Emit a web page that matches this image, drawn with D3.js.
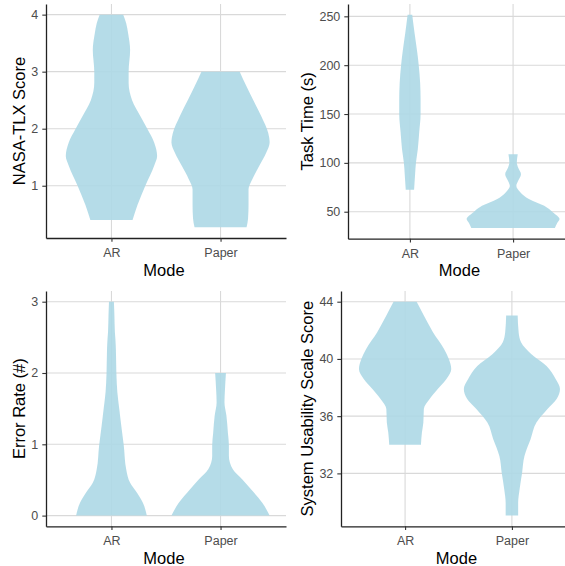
<!DOCTYPE html>
<html>
<head>
    <title>Violin plots AR vs Paper</title>
    <script src="https://d3js.org/d3.v7.min.js"></script>
    <style>
        body { margin: 0; background: #fff; }
        text { font-family: "Liberation Sans", Arial, sans-serif; }
    </style>
</head>
<body>
    <svg width="565" height="566"></svg>

    <script>
        // categories on the x axis
        const modes = ["AR", "Paper"];

        // violin outlines: [value, relative density]
        const tlxAR = [[4.0, 0.24], [3.85, 0.30], [3.67, 0.34], [3.38, 0.38], [3.0, 0.35], [2.8, 0.35], [2.5, 0.42],
            [2.22, 0.59], [2.0, 0.73], [1.76, 0.87], [1.52, 0.93], [1.35, 0.87], [1.0, 0.69], [0.66, 0.53], [0.4, 0.43]];
        const tlxPaper = [[3.0, 0.39], [2.74, 0.53], [2.51, 0.66], [2.22, 0.83], [1.93, 0.97], [1.76, 1.0], [1.58, 0.93],
            [1.35, 0.79], [1.12, 0.65], [0.94, 0.57], [0.66, 0.57], [0.42, 0.56], [0.27, 0.53]];

        const timeAR = [[251.7, 0.05], [233, 0.10], [216, 0.15], [200, 0.19], [182, 0.22], [165, 0.23], [150, 0.23],
            [131, 0.20], [114, 0.17], [100, 0.13], [87, 0.11], [72.4, 0.09]];
        const timePaper = [[108.8, 0.10], [100.3, 0.08], [95, 0.11], [88.4, 0.17], [81.6, 0.11], [76.5, 0.07], [69.7, 0.16],
            [63, 0.34], [56, 0.67], [49.3, 0.86], [42.5, 1.0], [38.4, 0.95], [33.3, 0.90]];

        const errAR = [[3.0, 0.05], [2.81, 0.06], [2.57, 0.07], [2.48, 0.08], [2.34, 0.09], [2.0, 0.10], [1.73, 0.12],
            [1.49, 0.16], [1.26, 0.20], [0.99, 0.25], [0.65, 0.30], [0.46, 0.38], [0.32, 0.52], [0.18, 0.64], [0, 0.72]];
        const errPaper = [[2.0, 0.11], [1.77, 0.09], [1.59, 0.08], [1.40, 0.12], [1.16, 0.15], [0.99, 0.17], [0.84, 0.17],
            [0.65, 0.25], [0.51, 0.44], [0.37, 0.62], [0.18, 0.85], [0, 1.0]];

        const susAR = [[44, 0.24], [43.04, 0.39], [41.87, 0.58], [40.7, 0.81], [40.0, 0.91], [39.3, 0.96], [38.6, 0.86],
            [37.9, 0.68], [37.2, 0.51], [36.5, 0.39], [35.55, 0.38], [34.85, 0.35], [34.0, 0.33]];
        const susPaper = [[43.04, 0.12], [41.87, 0.14], [41.17, 0.19], [40.35, 0.40], [39.5, 0.72], [38.6, 0.91], [37.9, 1.0],
            [37.2, 0.93], [36.5, 0.74], [35.55, 0.51], [34.4, 0.39], [33.2, 0.26], [32.0, 0.21], [30.9, 0.16],
            [29.94, 0.13], [29.05, 0.13]];

        // tick labels
        const tlxTicks = [1, 2, 3, 4];
        const timeTicks = [50, 100, 150, 200, 250];
        const errTicks = [0, 1, 2, 3];
        const susTicks = [32, 36, 40, 44];

        // axis titles
        const yTitles = ["NASA-TLX Score", "Task Time (s)", "Error Rate (#)", "System Usability Scale Score"];
        const xTitle = "Mode";

        const svg = d3.select("svg");

        // the four panels, laid out like the grid.arrange output
        const panels = [
            { left: 46, right: 286, top: 4, bottom: 238, series: [tlxAR, tlxPaper], ticks: tlxTicks, title: yTitles[0] },
            { left: 348, right: 575, top: 4, bottom: 238.7, series: [timeAR, timePaper], ticks: timeTicks, title: yTitles[1] },
            { left: 46, right: 286, top: 291, bottom: 526.3, series: [errAR, errPaper], ticks: errTicks, title: yTitles[2] },
            { left: 341, right: 576, top: 291, bottom: 526.3, series: [susAR, susPaper], ticks: susTicks, title: yTitles[3] }
        ];

        panels.forEach(p => {
            const g = svg.append("g");

            // y domain = data range plus 5% each side (ggplot default)
            const all = p.series.flat().map(d => d[0]);
            const [lo, hi] = d3.extent(all);
            const pad = (hi - lo) * 0.05;
            const y = d3.scaleLinear().domain([lo - pad, hi + pad]).range([p.bottom, p.top]);
            const x = d3.scalePoint().domain(modes).range([p.left, p.right]).padding(0.6);
            const w = d3.scaleLinear().domain([0, 1]).range([0, 0.45 * x.step()]);

            // grid lines
            g.append("g")
                .selectAll("line")
                .data(p.ticks)
                .enter()
                .append("line")
                .attr("x1", p.left).attr("x2", p.right)
                .attr("y1", d => y(d)).attr("y2", d => y(d))
                .attr("stroke", "#d9d9d9").attr("stroke-width", 1.1);
            g.append("g")
                .selectAll("line")
                .data(modes)
                .enter()
                .append("line")
                .attr("x1", d => x(d)).attr("x2", d => x(d))
                .attr("y1", p.top).attr("y2", p.bottom)
                .attr("stroke", "#d9d9d9").attr("stroke-width", 1.1);

            // violins
            p.series.forEach((s, i) => {
                const cx = x(modes[i]);
                const pts = s.slice().sort((a, b) => a[0] - b[0]);
                const area = d3.area()
                    .curve(d3.curveMonotoneY)
                    .y(d => y(d[0]))
                    .x0(d => cx - w(d[1]))
                    .x1(d => cx + w(d[1]));
                g.append("path")
                    .attr("d", area(pts))
                    .attr("fill", "#add8e6")
                    .attr("fill-opacity", 0.9);
            });

            // axes
            const yAxis = g.append("g")
                .attr("transform", `translate(${p.left},0)`)
                .call(d3.axisLeft(y).tickValues(p.ticks).tickFormat(d3.format("d"))
                    .tickSize(3.7).tickSizeOuter(0).tickPadding(4));
            const xAxis = g.append("g")
                .attr("transform", `translate(0,${p.bottom})`)
                .call(d3.axisBottom(x).tickSize(3.7).tickSizeOuter(0).tickPadding(6.3));

            [yAxis, xAxis].forEach(a => {
                a.select(".domain").attr("stroke", "#222").attr("stroke-width", 1.3);
                a.selectAll(".tick line").attr("stroke", "#333").attr("stroke-width", 1.1);
                a.selectAll(".tick text")
                    .attr("fill", "#4d4d4d")
                    .style("font-size", "12.5px")
                    .style("font-family", "Liberation Sans, Arial, sans-serif");
            });

            // axis titles
            const labelLeft = d3.min(yAxis.selectAll(".tick text").nodes(), n => n.getBoundingClientRect().left);
            g.append("text")
                .attr("transform", `translate(${labelLeft - 12},${(p.top + p.bottom) / 2}) rotate(-90)`)
                .attr("text-anchor", "middle")
                .attr("dy", "0.35em")
                .style("font-size", "16.5px")
                .text(p.title);
            g.append("text")
                .attr("x", (p.left + p.right) / 2 - 2)
                .attr("y", p.bottom + 37.5)
                .attr("text-anchor", "middle")
                .style("font-size", "16.5px")
                .text(xTitle);
        });
    </script>
</body>
</html>
